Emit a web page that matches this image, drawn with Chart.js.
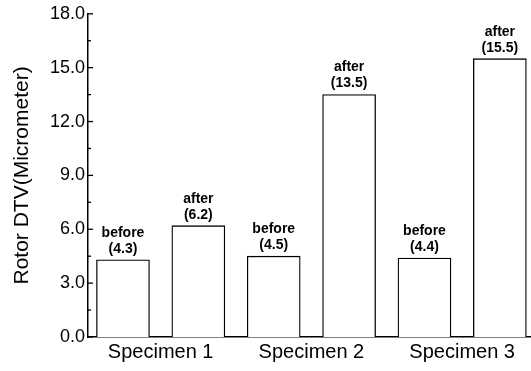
<!DOCTYPE html>
<html>
<head>
<meta charset="utf-8">
<script src="https://cdn.jsdelivr.net/npm/chart.js@4"></script>
<style>
  html, body { margin: 0; padding: 0; background: #fff; }
  #wrap { width: 531px; height: 371px; }
</style>
</head>
<body>
<div id="wrap"><canvas id="grafica"></canvas></div>
<script>
// Datos
const especimenes = ["Specimen 1", "Specimen 2", "Specimen 3"];
const estados = ["before", "after", "before", "after", "before", "after"];
const valoresDTV = [4.3, 6.2, 4.5, 13.5, 4.4, 15.5];
const etiquetasValor = ["(4.3)", "(6.2)", "(4.5)", "(13.5)", "(4.4)", "(15.5)"];
const ticksY = [0, 3, 6, 9, 12, 15, 18];

const FUENTE = "'Liberation Sans', Arial, sans-serif";

// Etiquetas encima de cada barra
const etiquetasBarras = {
  id: "etiquetasBarras",
  afterDatasetsDraw(chart) {
    const ctx = chart.ctx;
    const meta = chart.getDatasetMeta(0);
    ctx.save();
    ctx.fillStyle = "#000";
    ctx.font = "bold 14px " + FUENTE;
    ctx.textAlign = "center";
    ctx.textBaseline = "middle";
    meta.data.forEach((barra, i) => {
      ctx.fillText(estados[i], barra.x, barra.y - 27);
      ctx.fillText(etiquetasValor[i], barra.x, barra.y - 11);
    });
    ctx.restore();
  }
};

// Marcas del eje Y hacia dentro (mayores cada 3, menores cada 1.5)
const marcasInternas = {
  id: "marcasInternas",
  afterDraw(chart) {
    const ctx = chart.ctx;
    const y = chart.scales.y;
    const izq = chart.chartArea.left;
    ctx.save();
    ctx.strokeStyle = "#000";
    ctx.lineWidth = 1.3;
    y.ticks.forEach(t => {
      const py = y.getPixelForValue(t.value);
      const largo = ticksY.includes(t.value) ? 5 : 3;
      ctx.beginPath();
      ctx.moveTo(izq, py);
      ctx.lineTo(izq + largo, py);
      ctx.stroke();
    });
    ctx.restore();
  }
};

new Chart(document.getElementById("grafica"), {
  type: "bar",
  data: {
    datasets: [{
      data: valoresDTV.map((v, i) => ({ x: i, y: v })),
      backgroundColor: "#fff",
      borderColor: "#000",
      borderWidth: 1.3,
      borderSkipped: "bottom",
      barThickness: 53
    }]
  },
  options: {
    responsive: true,
    maintainAspectRatio: false,
    animation: false,
    layout: { padding: { top: 13, right: 1, left: 0, bottom: 0 } },
    plugins: { legend: { display: false }, tooltip: { enabled: false } },
    scales: {
      x: {
        type: "linear",
        offset: false,
        min: -0.464,
        max: 5.4,
        afterBuildTicks: s => { s.ticks = [0.5, 2.5, 4.5].map(v => ({ value: v })); },
        afterFit: s => { s.height = 34; },
        ticks: {
          color: "#000",
          font: { family: FUENTE, size: 20 },
          padding: 3,
          callback: (v) => especimenes[Math.round((v - 0.5) / 2)]
        },
        grid: { display: false, drawTicks: false },
        border: { display: true, color: "#000", width: 1.5 }
      },
      y: {
        min: 0,
        max: 18,
        afterFit: s => { s.width = 88; },
        ticks: {
          stepSize: 1.5,
          color: "#000",
          font: { family: FUENTE, size: 18 },
          padding: 3,
          callback: v => ticksY.includes(v) ? v.toFixed(1) : ""
        },
        grid: { display: false, drawTicks: false },
        border: { display: true, color: "#000", width: 1.5 },
        title: {
          display: true,
          text: "Rotor DTV(Micrometer)",
          color: "#000",
          font: { family: FUENTE, size: 21 },
          padding: { top: 10, bottom: 0 }
        }
      }
    }
  },
  plugins: [etiquetasBarras, marcasInternas]
});
</script>
</body>
</html>
